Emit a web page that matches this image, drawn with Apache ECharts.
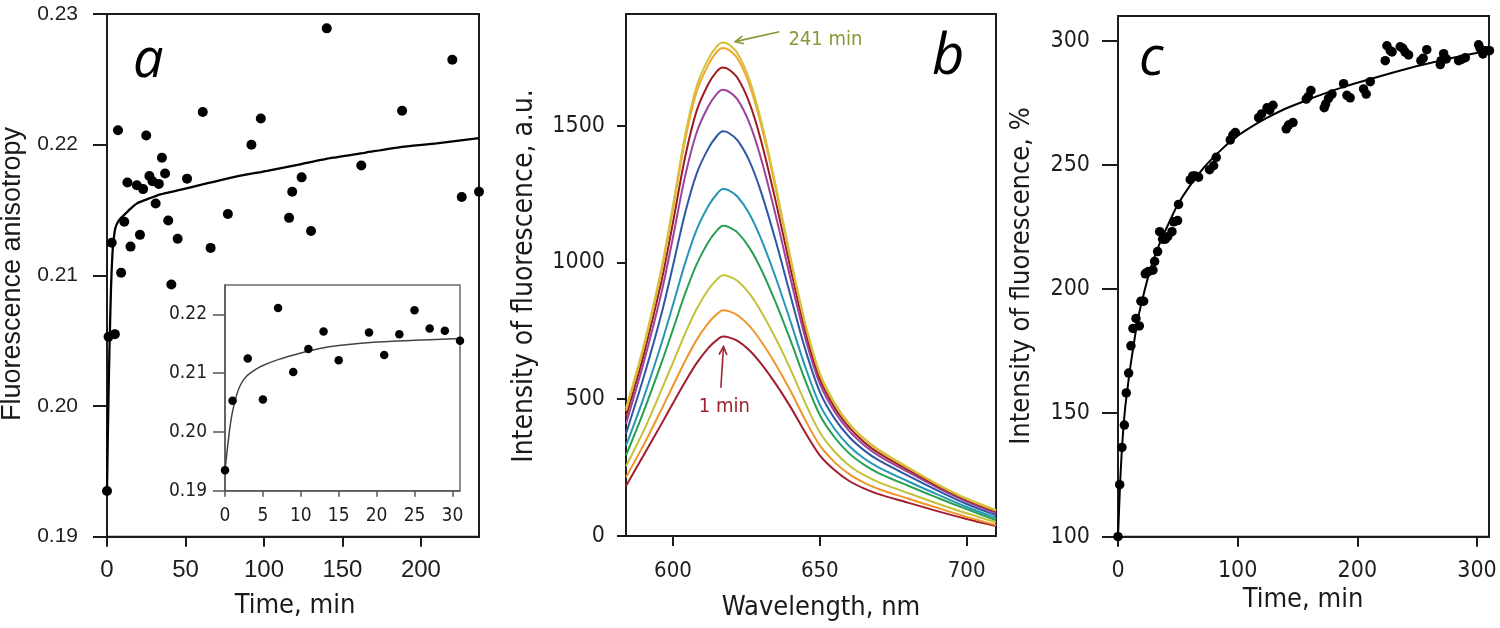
<!DOCTYPE html>
<html><head><meta charset="utf-8">
<script src="https://cdn.jsdelivr.net/npm/echarts@6/dist/echarts.min.js"></script>
<style>html,body{margin:0;padding:0;background:#fff}#c{width:1500px;height:628px}</style>
</head><body><div id="c"></div>
<script>
// ---------- Panel a : anisotropy ----------
const earlyTimes = [0,1,3,5,7,9,11,13,15,19,21,23,25,27,29,31];
const earlyAniso = [0.1935,0.2053,0.2125,0.2055,0.2211,0.2102,0.2141,0.2171,0.2122,0.2169,0.2131,0.2166,0.2207,0.2176,0.2172,0.2155];
const laterTimes = [33,35,37,39,41,45,51,61,66,77,92,98,116,118,124,130,140,162,188,220,226,237];
const laterAniso = [0.2170,0.2190,0.2178,0.2142,0.2093,0.2128,0.2174,0.2225,0.2121,0.2147,0.2200,0.2220,0.2144,0.2164,0.2175,0.2134,0.2289,0.2184,0.2226,0.2265,0.2160,0.2164];
const fitATimes = [0,0.5,1,1.5,2,2.5,3,3.5,4,5.3,7,9,11.6,15,19,25,34,45,59,80,102,123,144,165,186,210,237];
const fitAValues = [0.1935,0.1975,0.2010,0.2040,0.2065,0.2088,0.2105,0.2117,0.2125,0.2136,0.2141,0.2144,0.2147,0.2151,0.2155,0.2158,0.2162,0.2165,0.2169,0.2175,0.2180,0.2185,0.2190,0.2194,0.2198,0.2201,0.2205];
const fitInsetTimes = [0,0.3,0.66,1,1.54,2,2.86,4,5,7,9.9,12.5,15,20,25,31];
const fitInsetValues = [0.1935,0.1970,0.2009,0.2035,0.2063,0.2079,0.2095,0.2106,0.2113,0.2123,0.2134,0.2142,0.2147,0.2153,0.2156,0.2159];
const aXTicks = [0,50,100,150,200];
const aYTicks = [0.19,0.20,0.21,0.22,0.23];
const insetXTicks = [0,5,10,15,20,25,30];
const insetYTicks = [0.19,0.20,0.21,0.22];

// ---------- Panel b : spectra (bottom = 1 min, top = 241 min) ----------
const wavelengths = [584,590,596,600,604,608,612,615,617,619,622,626,630,635,640,645,650,655,660,665,670,680,690,700,710];
const spec1min  = [183,295,408,485,561,631,687,717,729,726,713,679,630,556,472,379,295,241,201,174,153,122,91,62,36];
const spec2     = [215,333,461,549,637,716,778,811,825,822,807,768,712,627,531,425,331,270,226,195,172,137,103,70,40];
const spec3     = [255,384,532,634,737,829,900,938,953,949,932,887,821,722,610,487,379,309,258,223,197,157,119,83,50];
const spec4     = [295,455,630,755,882,992,1074,1117,1134,1129,1109,1054,975,853,716,570,442,361,302,261,230,184,140,98,58];
const spec5     = [330,505,701,845,993,1118,1205,1251,1268,1263,1240,1178,1086,944,785,620,480,392,329,284,251,200,152,106,66];
const spec6     = [374,580,809,988,1175,1323,1416,1463,1479,1473,1446,1371,1257,1078,879,684,527,430,362,314,277,221,167,117,76];
const spec7     = [410,633,886,1092,1309,1473,1570,1617,1631,1624,1595,1510,1379,1171,942,726,557,455,384,333,294,234,177,126,84];
const spec8     = [437,662,927,1146,1378,1552,1651,1699,1712,1705,1674,1584,1445,1223,979,752,575,470,397,344,304,242,183,131,89];
const spec9     = [458,688,964,1195,1440,1622,1722,1771,1784,1777,1745,1650,1503,1269,1011,774,591,484,409,355,313,249,188,135,93];
const spec241min= [467,695,975,1209,1458,1642,1743,1791,1804,1797,1764,1669,1519,1281,1019,779,595,487,411,357,316,251,190,137,95];
const bXTicks = [600,650,700];
const bYTicks = [0,500,1000,1500];

// ---------- Panel c : intensity ----------
const cTimes = [0,1.4,3.3,5.3,6.9,8.9,10.8,12.5,15,17.8,19.2,21.4,22.8,24,25.6,29.2,30.6,33.1,34.8,37.3,39.5,41.5,45.1,46.5,49.8,50.6,60.4,62.5,64.6,67.3,76.5,79.9,82.1,93.8,96,98,117.5,120,124.5,126.7,129.5,140.6,142.5,146.2,157.3,159,161.2,172.3,173.5,175.9,178.8,188.5,191.3,194,205.2,207.4,210.8,223.3,224.7,227.5,229,235.8,238,240,242.8,253.1,255,258,269.3,270,272.1,274.3,284.6,287,290.2,301.3,302.5,304.9,307,310.4];
const cValues = [100,121,136,145,158,166,177,184,188,185,195,195,206,206.5,207,207.5,211,215,223,220,220,221,223,227,227.5,234,244,245.5,245.5,245,248,249.6,253,260,262,263,269,270.5,273,272,274,264.5,266,267,276.5,277.5,280,273,274.5,276.8,278.5,282.7,278,277,280.6,278.5,283.5,292,298,296,295.5,297.6,297,295.4,294.3,292,293,296.4,290.4,292,294.8,292.7,292,292.5,293.2,298.4,297,294.7,296,296];
const fitCTimes = [0,1,1.9,3,4.5,6,7.5,10,12.5,15.9,20,27,35,42,49.3,60,72,84,96.6,110,124,138,152.3,170,190,208,230,250,270,290,310];
const fitCValues = [100,112,123,133,144,152,158,167.5,175.5,186,195,207.8,218.5,226,233.4,241.5,249,255,260.5,264.9,268.8,272.2,275,278.3,281.6,284.2,287.2,289.8,292.1,294.2,296.1];
const cXTicks = [0,100,200,300];
const cYTicks = [100,150,200,250,300];

const specColors = ['#a21d2e','#f0952a','#c2c23a','#27a050','#2596b5','#2f57a6','#9a449e','#9c1c22','#f2a530','#d2c23c'];
const specList = [spec1min,spec2,spec3,spec4,spec5,spec6,spec7,spec8,spec9,spec241min];

const zip = (a,b) => a.map((v,i)=>[v,b[i]]);
const AX = '#1c1c1c';
const COND = '"DejaVu Sans Condensed","DejaVu Sans",sans-serif';
const ARIAL = '"Liberation Sans",Arial,sans-serif';
const NARROW = '"Liberation Sans Narrow","Liberation Sans",sans-serif';
const ITAL = '"Open Sans","Noto Sans",sans-serif';

function axis(gi, min, max, ticks, o) {
  return {
    type:'value', gridIndex:gi, min:min, max:max,
    axisLine:{show:true, onZero:false, lineStyle:{color:o.color||AX, width:o.lw||2}},
    axisTick:{show:true, customValues:ticks, length:o.tick, lineStyle:{color:o.color||AX, width:o.lw||2}},
    axisLabel:{show:true, customValues:ticks, margin:o.margin, fontFamily:o.font, fontSize:o.size, color:'#1e1e1e',
      formatter:o.fmt || (v=>String(v))},
    splitLine:{show:false}
  };
}

const grids = [
  {left:107, top:14, width:372, height:522.7},
  {left:225, top:285, width:235, height:205.7},
  {left:626, top:14, width:370, height:522},
  {left:1118, top:16, width:371, height:520.7}
].map((g,i)=>Object.assign(g,{show:true, borderColor: i===1?'#6a6a6a':AX, borderWidth: i===1?1.5:2, backgroundColor:'transparent', outerBoundsMode:'none', containLabel:false}));

const option = {
  animation:false,
  backgroundColor:'#fff',
  grid: grids,
  xAxis: [
    axis(0,0,237,aXTicks,{tick:10, margin:22, font:NARROW, size:24}),
    axis(1,0,31,insetXTicks,{tick:6, margin:16, font:COND, size:19, color:'#555', lw:1.5}),
    axis(2,584,710,bXTicks,{tick:10, margin:24, font:COND, size:22}),
    axis(3,0,310,cXTicks,{tick:10, margin:23, font:COND, size:23})
  ],
  yAxis: [
    axis(0,0.19,0.23,aYTicks,{tick:14, margin:29, font:ARIAL, size:21, fmt:v=>v.toFixed(2)}),
    axis(1,0.19,0.225,insetYTicks,{tick:12, margin:18, font:COND, size:19, color:'#555', lw:1.5, fmt:v=>v.toFixed(2)}),
    axis(2,0,1908,bYTicks,{tick:9, margin:21, font:COND, size:23}),
    axis(3,100,310,cYTicks,{tick:16, margin:28, font:COND, size:23})
  ],
  series: [
    {type:'line', xAxisIndex:0, yAxisIndex:0, data:zip(fitATimes,fitAValues), showSymbol:false, smooth:0.2,
      lineStyle:{color:'#000', width:2.3}, z:2, silent:true},
    {type:'scatter', xAxisIndex:0, yAxisIndex:0, data:zip(earlyTimes.concat(laterTimes), earlyAniso.concat(laterAniso)),
      symbolSize:10, itemStyle:{color:'#000', opacity:1}, clip:false, z:3},
    {type:'line', xAxisIndex:1, yAxisIndex:1, data:zip(fitInsetTimes,fitInsetValues), showSymbol:false, smooth:0.2,
      lineStyle:{color:'#444', width:1.5}, z:2, silent:true},
    {type:'scatter', xAxisIndex:1, yAxisIndex:1, data:zip(earlyTimes,earlyAniso), symbolSize:8.5, itemStyle:{color:'#000', opacity:1}, clip:false, z:3},
  ].concat(specList.map((arr,i)=>({
      type:'line', xAxisIndex:2, yAxisIndex:2, data:zip(wavelengths,arr), showSymbol:false, smooth:0.3,
      lineStyle:{color:specColors[i], width:2}, z:2+i, silent:true
  }))).concat([
    {type:'line', xAxisIndex:3, yAxisIndex:3, data:zip(fitCTimes,fitCValues), showSymbol:false, smooth:0.2,
      lineStyle:{color:'#000', width:2}, z:2, silent:true},
    {type:'scatter', xAxisIndex:3, yAxisIndex:3, data:zip(cTimes,cValues), symbolSize:9.5, itemStyle:{color:'#000', opacity:1}, clip:false, z:3}
  ])
};

const chart = echarts.init(document.getElementById('c'));
chart.setOption(option);

function px(gi, x, y){ return chart.convertToPixel({gridIndex:gi}, [x,y]); }
function arrow(p0, p1, color){
  const ang = Math.atan2(p1[1]-p0[1], p1[0]-p0[0]);
  const L = 9, a = 0.45;
  const h1 = [p1[0]-L*Math.cos(ang-a), p1[1]-L*Math.sin(ang-a)];
  const h2 = [p1[0]-L*Math.cos(ang+a), p1[1]-L*Math.sin(ang+a)];
  return [
    {type:'line', shape:{x1:p0[0],y1:p0[1],x2:p1[0],y2:p1[1]}, style:{stroke:color, lineWidth:1.6}},
    {type:'polyline', shape:{points:[h1,p1,h2]}, style:{stroke:color, lineWidth:1.6, fill:null}}
  ];
}
const tA = px(2, 636.2, 1843), hA = px(2, 621.2, 1807), lblA = px(2, 639.3, 1814);
const tB = px(2, 616.3, 542), hB = px(2, 617.2, 692), lblB = px(2, 617.5, 473);

function txt(x,y,s,font,size,opts){
  return Object.assign({type:'text', x:x, y:y, style:Object.assign({text:s, fontFamily:font, fontSize:size, fill:'#1a1a1a', align:'center', verticalAlign:'middle'}, (opts&&opts.style)||{})}, opts&&opts.el||{});
}
const graphics = [
  txt(13,274,'Fluorescence anisotropy',ARIAL,27,{el:{rotation:Math.PI/2}}),
  txt(295,606,'Time, min',COND,27),
  txt(525,276,'Intensity of fluorescence, a.u.',COND,28,{el:{rotation:Math.PI/2}}),
  txt(821,608,'Wavelength, nm',COND,27),
  txt(1022,276,'Intensity of fluorescence, %',COND,27,{el:{rotation:Math.PI/2}}),
  txt(1303,600,'Time, min',COND,27),
  txt(133,62,'a',ITAL,54,{style:{align:'left', fontStyle:'italic', fill:'#000'}}),
  txt(932,58,'b',ITAL,56,{style:{align:'left', fontStyle:'italic', fill:'#000'}}),
  txt(1139,60,'c',ITAL,54,{style:{align:'left', fontStyle:'italic', fill:'#000'}}),
  txt(lblA[0],lblA[1],'241 min',COND,20,{style:{align:'left', fill:'#8c9436'}}),
  txt(lblB[0],lblB[1],'1 min',COND,20,{style:{fill:'#a0202e'}})
].concat(arrow(tA,hA,'#8c9436')).concat(arrow(tB,hB,'#a0202e'));
chart.setOption({graphic:graphics});
</script>
</body></html>
